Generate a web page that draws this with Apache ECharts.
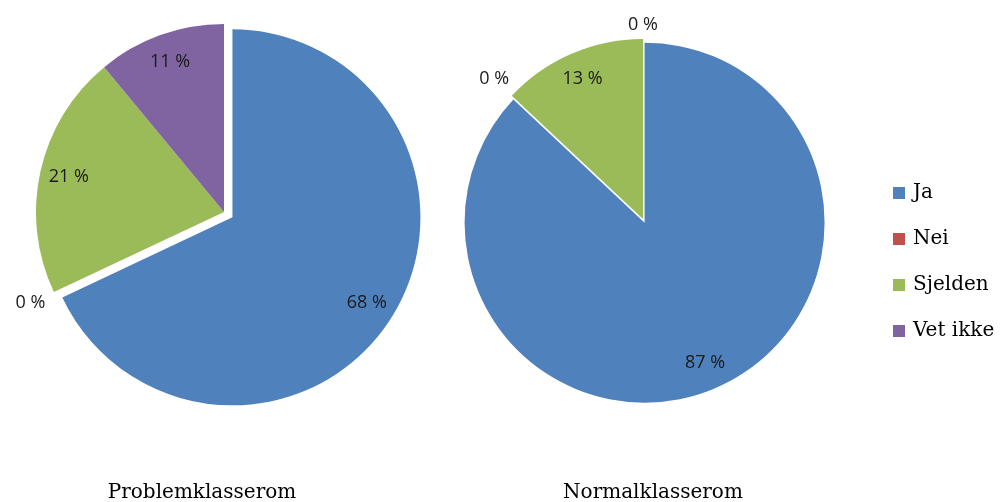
<!DOCTYPE html>
<html>
<head>
<meta charset="utf-8">
<script src="https://cdn.jsdelivr.net/npm/echarts@6/dist/echarts.min.js"></script>
<style>
  html, body { margin: 0; padding: 0; background: #ffffff; }
  #chart { width: 1001px; height: 502px; }
</style>
</head>
<body>
<div id="chart"></div>
<script>
// Answer categories and colours
const categories = ['Ja', 'Nei', 'Sjelden', 'Vet ikke'];
const colors = ['#4F81BD', '#C0504D', '#9BBB59', '#8064A2'];

// Share of answers (%) per classroom type
const problemValues = [68, 0, 21, 11];
const normalValues = [87, 0, 13, 0];

// Captions under each pie
const pieTitles = ['Problemklasserom', 'Normalklasserom'];

// Layout of the two pies; zeroGap = distance of an empty category's label beyond the rim
const pies = [
  { values: problemValues, center: [224, 212], r: 188, explode: 10, zeroGap: [0, 23, 0, 0], title: pieTitles[0], titleX: 202 },
  { values: normalValues, center: [643, 219], r: 180, explode: 4, zeroGap: [0, 21, 0, 11], title: pieTitles[1], titleX: 653 }
];

const labelFont = { fontFamily: 'Open Sans', fontSize: 18, color: '#1a1a1a', textBorderWidth: 0 };

function items(values, transparent, showLabel) {
  return categories.map((name, i) => {
    const color = transparent ? 'rgba(0,0,0,0)' : colors[i];
    const show = showLabel(i);
    return {
      name: name,
      value: values[i],
      selected: i === 0,            // "Ja" slice is pulled out
      itemStyle: { color: color },
      select: { itemStyle: { color: color, borderWidth: 0 }, label: { show: show } },
      label: { show: show }
    };
  });
}

const series = [];
pies.forEach(p => {
  const common = {
    type: 'pie',
    center: p.center,
    startAngle: 90,
    clockwise: true,
    selectedMode: 'multiple',
    selectedOffset: p.explode,
    silent: true,
    animation: false,
    avoidLabelOverlap: false,
    emphasis: { disabled: true },
    labelLine: { show: false }
  };
  // filled slices
  series.push(Object.assign({}, common, {
    radius: p.r,
    label: { show: false },
    data: items(p.values, false, () => false)
  }));
  // value labels inside the slices
  series.push(Object.assign({}, common, {
    radius: [p.r * 0.66, p.r],
    label: Object.assign({ position: 'inside', formatter: '{c} %' }, labelFont),
    data: items(p.values, true, i => p.values[i] > 0)
  }));
  // labels for empty categories, just outside the rim
  p.values.forEach((v, k) => {
    if (v !== 0) return;
    const gap = p.zeroGap[k];
    series.push(Object.assign({}, common, {
      radius: [p.r + gap - 10, p.r + gap + 10],
      label: Object.assign({ position: 'inside', formatter: '{c} %' }, labelFont),
      data: items(p.values, true, i => i === k)
    }));
  });
});

const titleStyle = { fontFamily: 'DejaVu Serif', fontSize: 20, fontWeight: 'normal', color: '#000000' };

const option = {
  backgroundColor: '#ffffff',
  title: pies.map(p => ({
    text: p.title,
    left: p.titleX,
    top: 483,
    padding: 0,
    textAlign: 'center',
    textStyle: titleStyle
  })),
  legend: {
    orient: 'vertical',
    left: 893,
    top: 183,
    padding: 0,
    icon: 'rect',
    itemWidth: 12,
    itemHeight: 12,
    itemGap: 26,
    selectedMode: false,
    data: categories.map((name, i) => ({ name: name, itemStyle: { color: colors[i] } })),
    textStyle: { fontFamily: 'DejaVu Serif', fontSize: 20, lineHeight: 20, color: '#000000', padding: [0, 0, 0, 3] }
  },
  series: series
};

const chart = echarts.init(document.getElementById('chart'), null, { renderer: 'canvas' });
chart.setOption(option);
</script>
</body>
</html>
